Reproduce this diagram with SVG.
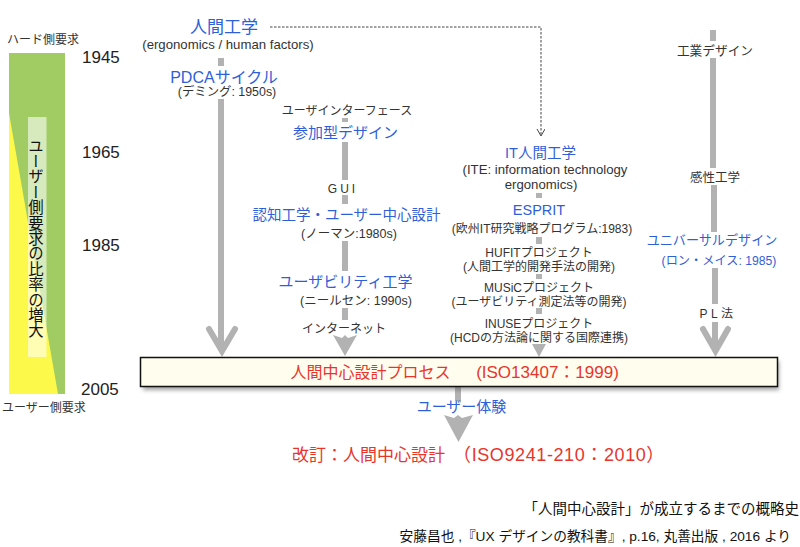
<svg xmlns="http://www.w3.org/2000/svg" width="800" height="547" viewBox="0 0 800 547">
<style>
text{font-family:"Liberation Sans","Noto Sans CJK JP",sans-serif;fill:#333;text-anchor:middle;font-size:12px}
.b{fill:#2f5fd8}
.r{fill:#e8352c}
.k{fill:#111}
.y{font-size:17px;text-anchor:start;fill:#222}
.l{text-anchor:start;font-size:12px}
.bar{fill:#b2b2b2}
.hd{fill:none;stroke:#b2b2b2;stroke-width:6;stroke-linecap:round;stroke-linejoin:miter}
.h3{font-size:15px}
.n{font-size:12.500px}
.w{font-size:13.200px}
.c{text-anchor:end;fill:#111}
</style>
<defs>
<filter id="sh" x="-5%" y="-30%" width="110%" height="170%"><feGaussianBlur stdDeviation="2"/></filter>
<marker id="op" markerWidth="10" markerHeight="10" refX="8" refY="4" orient="auto" markerUnits="userSpaceOnUse"><path d="M1 0L8 4L1 8" fill="none" stroke="#444" stroke-width="1"/></marker>
</defs>
<g id="ratio-chart">
<rect x="9" y="53" width="56" height="341" fill="#a1cc63"/>
<polygon points="9,113 58,394 9,394" fill="#fdf94b"/>
<rect x="28" y="117" width="18.500" height="240" fill="#fff" fill-opacity=".58"/>
<text x="36" y="138" class="k" style="writing-mode:vertical-rl;font-family:'Noto Sans CJK JP',sans-serif;font-size:15.400px;text-anchor:start">ユーザー側要求の比率の増大</text>
<text x="7" y="44" class="l">ハード側要求</text>
<text x="2" y="412" class="l">ユーザー側要求</text>
</g>
<g id="years">
<text x="82" y="63" class="y">1945</text>
<text x="82" y="158" class="y">1965</text>
<text x="82" y="251" class="y">1985</text>
<text x="81" y="395" class="y">2005</text>
</g>
<g id="connectors">
<rect class="bar" x="218" y="58" width="6" height="8"/>
<rect class="bar" x="218" y="99" width="6" height="248"/>
<path class="hd" d="M209 329L222 351L235 329"/>
<rect class="bar" x="342" y="118" width="6" height="4"/>
<rect class="bar" x="342" y="142" width="6" height="38"/>
<rect class="bar" x="342" y="195" width="6" height="9"/>
<rect class="bar" x="342" y="241" width="6" height="30"/>
<rect class="bar" x="342" y="308" width="6" height="12"/>
<polygon class="bar" points="333,335 342,338 345,335 348,338 357,335 345,356"/>
<rect class="bar" x="536" y="193" width="6" height="5"/>
<rect class="bar" x="536" y="237" width="6" height="7"/>
<rect class="bar" x="536" y="274" width="6" height="5"/>
<rect class="bar" x="536" y="308" width="6" height="6"/>
<polygon class="bar" points="532,344 546,344 539,357"/>
<rect class="bar" x="710" y="30" width="6" height="11"/>
<rect class="bar" x="710" y="58" width="6" height="110"/>
<rect class="bar" x="711" y="185" width="6" height="47"/>
<rect class="bar" x="712" y="268" width="6" height="36"/>
<rect class="bar" x="712" y="322" width="6" height="25"/>
<path class="hd" d="M703 329L715.500 351L728 329"/>
<rect class="bar" x="455" y="387" width="6" height="14"/>
<polygon class="bar" points="444,415 454,418 458,415 462,418 473,415 458.500,442"/>
<path d="M270 27H541V136" fill="none" stroke="#444" stroke-width="1" stroke-dasharray="2.500 1.500" marker-end="url(#op)"/>
</g>
<g id="process-box">
<rect x="143" y="361" width="636" height="29" fill="#555" opacity=".55" filter="url(#sh)"/>
<rect x="140.500" y="357.500" width="637" height="29" fill="#fffdee" stroke="#111" stroke-width="1.500"/>
<text x="370.500" y="378" class="r" style="font-size:16px">人間中心設計プロセス</text>
<text x="547.500" y="378" class="r" style="font-size:17px">(ISO13407：1999)</text>
</g>
<g id="n-ergonomics">
<text x="224" y="33" class="b" style="font-size:17px">人間工学</text>
<text x="228" y="49" class="w">(ergonomics / human factors)</text>
</g>
<g id="n-pdca">
<text x="224" y="83" class="b" style="font-size:16px">PDCAサイクル</text>
<text x="227" y="96" style="font-size:12.400px">(デミング: 1950s)</text>
</g>
<g id="n-ui">
<text x="347" y="115">ユーザインターフェース</text>
<text x="345.500" y="138" class="b h3">参加型デザイン</text>
</g>
<g id="n-gui"><text x="343" y="193" style="letter-spacing:3px">GUI</text></g>
<g id="n-cog">
<text x="346.500" y="220" class="b" style="font-size:14.500px">認知工学・ユーザー中心設計</text>
<text x="349" y="238" class="n">(ノーマン:1980s)</text>
</g>
<g id="n-usability">
<text x="345.500" y="287" class="b h3">ユーザビリティ工学</text>
<text x="356" y="305" class="n">(ニールセン: 1990s)</text>
</g>
<g id="n-internet"><text x="344" y="333">インターネット</text></g>
<g id="n-it">
<text x="540.500" y="158" class="b" style="font-size:14.500px">IT人間工学</text>
<text x="545" y="174" class="w">(ITE: information technology</text>
<text x="541" y="189" class="w">ergonomics)</text>
</g>
<g id="n-esprit">
<text x="539" y="215" class="b" style="font-size:14.500px">ESPRIT</text>
<text x="542" y="233">(欧州IT研究戦略プログラム:1983)</text>
</g>
<g id="n-hufit">
<text x="539" y="256.500">HUFITプロジェクト</text>
<text x="539" y="270.500">(人間工学的開発手法の開発)</text>
</g>
<g id="n-music">
<text x="539" y="291.500">MUSiCプロジェクト</text>
<text x="539" y="305.500">(ユーザビリティ測定法等の開発)</text>
</g>
<g id="n-inuse">
<text x="539" y="327.500">INUSEプロジェクト</text>
<text x="539" y="341.500">(HCDの方法論に関する国際連携)</text>
</g>
<g id="n-industrial"><text x="715" y="55" style="font-size:12.700px">工業デザイン</text></g>
<g id="n-kansei"><text x="715" y="182" style="font-size:12.500px">感性工学</text></g>
<g id="n-universal">
<text x="712" y="245" class="b" style="font-size:13.100px">ユニバーサルデザイン</text>
<text x="719" y="265" class="b" style="font-size:12.200px">(ロン・メイス: 1985)</text>
</g>
<g id="n-pl"><text x="718" y="318" style="letter-spacing:3.500px">PL法</text></g>
<g id="n-ux"><text x="461.500" y="412" class="b h3">ユーザー体験</text></g>
<g id="n-revision">
<text x="368.500" y="461" class="r" style="font-size:17px">改訂：人間中心設計</text>
<text x="559" y="461" class="r" style="font-size:18px;letter-spacing:.6px">（ISO9241-210：2010）</text>
</g>
<g id="caption">
<text x="799" y="514" class="c" style="font-size:14.500px">「人間中心設計」が成立するまでの概略史</text>
<text x="791" y="541" class="c" style="font-size:13.700px">安藤昌也 ,『UX デザインの教科書』, p.16, 丸善出版 , 2016 より</text>
</g>
</svg>
